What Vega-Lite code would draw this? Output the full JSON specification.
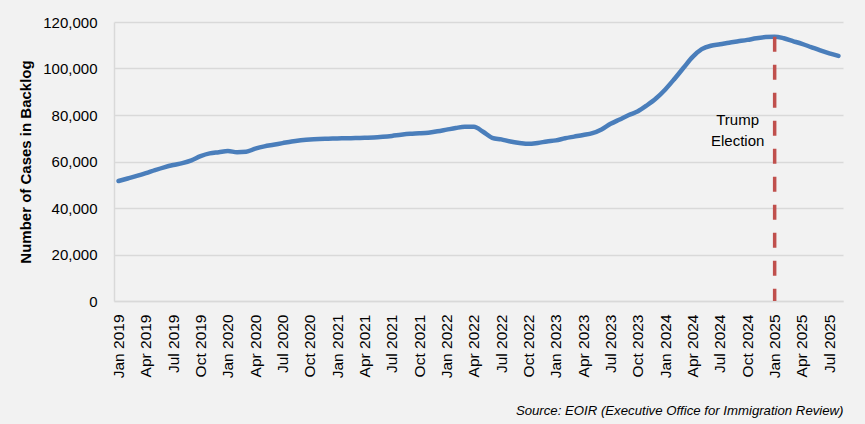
{
  "$schema": "https://vega.github.io/schema/vega-lite/v6.json",
  "width": 729,
  "height": 279,
  "autosize": "none",
  "padding": {"left": 114, "top": 22, "right": 22, "bottom": 123},
  "background": "#f2f2f2",
  "config": {
    "view": {"stroke": null},
    "font": "Liberation Sans",
    "text": {"font": "Liberation Sans"},
    "axis": {"labelFont": "Liberation Sans", "titleFont": "Liberation Sans", "labelColor": "#000000", "titleColor": "#000000"}
  },
  "encoding": {
    "x": {
      "field": "month", "type": "ordinal", "sort": null,
      "scale": {"type": "point", "padding": 0.5},
      "axis": {
        "values": ["Jan 2019","Apr 2019","Jul 2019","Oct 2019","Jan 2020","Apr 2020","Jul 2020","Oct 2020","Jan 2021","Apr 2021","Jul 2021","Oct 2021","Jan 2022","Apr 2022","Jul 2022","Oct 2022","Jan 2023","Apr 2023","Jul 2023","Oct 2023","Jan 2024","Apr 2024","Jul 2024","Oct 2024","Jan 2025","Apr 2025","Jul 2025"],
        "labelAngle": -90, "labelFontSize": 15.5, "ticks": false, "labelPadding": 13,
        "domainColor": "#d9d9d9", "domainWidth": 1.5, "grid": false,
        "title": "Source: EOIR (Executive Office for Immigration Review)",
        "titleAnchor": "end", "titleFontStyle": "italic", "titleFontWeight": "normal",
        "titleFontSize": 13.2, "titlePadding": 27
      }
    }
  },
  "layer": [
    {
      "data": {"values": [
        {"month": "Jan 2019", "cases": 51600}, {"month": "Feb 2019", "cases": 52700}, {"month": "Mar 2019", "cases": 53800}, {"month": "Apr 2019", "cases": 55000},
        {"month": "May 2019", "cases": 56300}, {"month": "Jun 2019", "cases": 57500}, {"month": "Jul 2019", "cases": 58500}, {"month": "Aug 2019", "cases": 59300},
        {"month": "Sep 2019", "cases": 60500}, {"month": "Oct 2019", "cases": 62300}, {"month": "Nov 2019", "cases": 63500}, {"month": "Dec 2019", "cases": 64000},
        {"month": "Jan 2020", "cases": 64500}, {"month": "Feb 2020", "cases": 64000}, {"month": "Mar 2020", "cases": 64200}, {"month": "Apr 2020", "cases": 65500},
        {"month": "May 2020", "cases": 66500}, {"month": "Jun 2020", "cases": 67200}, {"month": "Jul 2020", "cases": 67900}, {"month": "Aug 2020", "cases": 68600},
        {"month": "Sep 2020", "cases": 69100}, {"month": "Oct 2020", "cases": 69500}, {"month": "Nov 2020", "cases": 69700}, {"month": "Dec 2020", "cases": 69800},
        {"month": "Jan 2021", "cases": 69900}, {"month": "Feb 2021", "cases": 70000}, {"month": "Mar 2021", "cases": 70100}, {"month": "Apr 2021", "cases": 70200},
        {"month": "May 2021", "cases": 70300}, {"month": "Jun 2021", "cases": 70600}, {"month": "Jul 2021", "cases": 71000}, {"month": "Aug 2021", "cases": 71500},
        {"month": "Sep 2021", "cases": 71900}, {"month": "Oct 2021", "cases": 72100}, {"month": "Nov 2021", "cases": 72400}, {"month": "Dec 2021", "cases": 73000},
        {"month": "Jan 2022", "cases": 73700}, {"month": "Feb 2022", "cases": 74400}, {"month": "Mar 2022", "cases": 74900}, {"month": "Apr 2022", "cases": 74900},
        {"month": "May 2022", "cases": 72800}, {"month": "Jun 2022", "cases": 70200}, {"month": "Jul 2022", "cases": 69500}, {"month": "Aug 2022", "cases": 68600},
        {"month": "Sep 2022", "cases": 68000}, {"month": "Oct 2022", "cases": 67600}, {"month": "Nov 2022", "cases": 68000}, {"month": "Dec 2022", "cases": 68600},
        {"month": "Jan 2023", "cases": 69100}, {"month": "Feb 2023", "cases": 70000}, {"month": "Mar 2023", "cases": 70700}, {"month": "Apr 2023", "cases": 71400},
        {"month": "May 2023", "cases": 72200}, {"month": "Jun 2023", "cases": 73800}, {"month": "Jul 2023", "cases": 76200}, {"month": "Aug 2023", "cases": 78100},
        {"month": "Sep 2023", "cases": 80000}, {"month": "Oct 2023", "cases": 81600}, {"month": "Nov 2023", "cases": 84200}, {"month": "Dec 2023", "cases": 87200},
        {"month": "Jan 2024", "cases": 91000}, {"month": "Feb 2024", "cases": 95500}, {"month": "Mar 2024", "cases": 100300}, {"month": "Apr 2024", "cases": 105000},
        {"month": "May 2024", "cases": 108300}, {"month": "Jun 2024", "cases": 109800}, {"month": "Jul 2024", "cases": 110400}, {"month": "Aug 2024", "cases": 111100},
        {"month": "Sep 2024", "cases": 111700}, {"month": "Oct 2024", "cases": 112300}, {"month": "Nov 2024", "cases": 113000}, {"month": "Dec 2024", "cases": 113500},
        {"month": "Jan 2025", "cases": 113700}, {"month": "Feb 2025", "cases": 113000}, {"month": "Mar 2025", "cases": 111800}, {"month": "Apr 2025", "cases": 110600},
        {"month": "May 2025", "cases": 109200}, {"month": "Jun 2025", "cases": 107800}, {"month": "Jul 2025", "cases": 106500}, {"month": "Aug 2025", "cases": 105400}
      ]},
      "mark": {"type": "line", "color": "#4a7ebb", "strokeWidth": 4.5, "interpolate": "monotone", "strokeCap": "round"},
      "encoding": {
        "y": {
          "field": "cases", "type": "quantitative",
          "scale": {"domain": [0, 120000], "nice": false},
          "axis": {
            "values": [0, 20000, 40000, 60000, 80000, 100000, 120000], "format": ",.0f",
            "labelFontSize": 15, "ticks": false, "labelPadding": 17,
            "domainColor": "#d9d9d9", "domainWidth": 1.5,
            "gridColor": "#d9d9d9", "gridWidth": 1.5,
            "title": "Number of Cases in Backlog", "titleFontSize": 15, "titleFontWeight": "bold", "titlePadding": 9
          }
        }
      }
    },
    {
      "data": {"values": [{"month": "Jan 2025", "top": 113700, "bottom": 0, "label": ["Trump", "Election"], "labelY": 77800}]},
      "layer": [
        {
          "mark": {"type": "rule", "color": "#c0504d", "strokeWidth": 3.5, "strokeDash": [15, 13]},
          "encoding": {
            "y": {"field": "top", "type": "quantitative"},
            "y2": {"field": "bottom"}
          }
        },
        {
          "mark": {"type": "text", "font": "Liberation Sans", "fontSize": 15, "lineHeight": 21, "align": "center", "baseline": "middle", "dx": -37, "color": "#000000"},
          "encoding": {
            "y": {"field": "labelY", "type": "quantitative"},
            "text": {"field": "label"}
          }
        }
      ]
    }
  ]
}
